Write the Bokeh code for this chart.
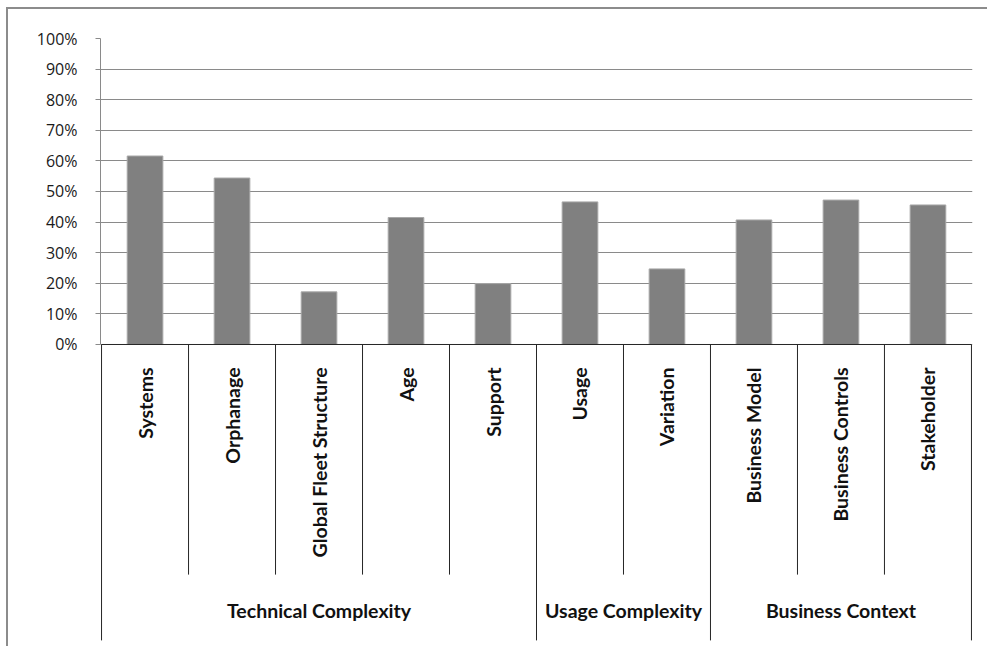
import math
from bokeh.plotting import figure
from bokeh.models import Range1d, FixedTicker, NumeralTickFormatter
from bokeh.core.properties import value
from bokeh.embed import file_html
from bokeh.resources import INLINE

# ---- data ----
categories = ["Systems", "Orphanage", "Global Fleet Structure", "Age", "Support",
              "Usage", "Variation", "Business Model", "Business Controls", "Stakeholder"]
groups = ["Technical Complexity"] * 5 + ["Usage Complexity"] * 2 + ["Business Context"] * 3
values = [0.616, 0.544, 0.172, 0.415, 0.199, 0.466, 0.247, 0.407, 0.472, 0.456]
y_ticks = [0.0, 0.1, 0.2, 0.3, 0.4, 0.5, 0.6, 0.7, 0.8, 0.9, 1.0]

n = len(categories)
xs = [i + 0.5 for i in range(n)]

TICK_FONT = "Open Sans"
CAT_FONT = "Lato"
Y_BOTTOM = -0.9706
PAD = 0.012
p = figure(width=981, height=639,
           x_range=Range1d(-PAD, n + PAD), y_range=Range1d(Y_BOTTOM, 1.0),
           output_backend="svg", toolbar_location=None,
           min_border_left=92, min_border_right=17, min_border_top=29, min_border_bottom=7)
p.margin = (7, 0, 0, 6)
p.styles = {"border-top": "2px solid #8c8c8c", "border-left": "2px solid #8c8c8c"}
p.outline_line_color = None
p.background_fill_color = "white"
p.border_fill_color = "white"

p.xaxis.visible = False
p.xgrid.visible = False

p.ygrid.ticker = FixedTicker(ticks=y_ticks)
p.ygrid.bounds = (0, 1)
p.ygrid.grid_line_color = "#8a8a8a"
p.ygrid.grid_line_width = 1

ax = p.yaxis[0]
ax.ticker = FixedTicker(ticks=y_ticks)
ax.formatter = NumeralTickFormatter(format="0%")
ax.bounds = (0, 1)
ax.axis_line_color = "#8a8a8a"
ax.major_tick_line_color = "#8a8a8a"
ax.major_tick_out = 5
ax.major_tick_in = 0
ax.minor_tick_line_color = None
ax.major_label_standoff = 18
ax.major_label_text_font = TICK_FONT
ax.major_label_text_font_size = "16px"
ax.major_label_text_color = "#1a1a1a"

# bars
p.vbar(x=xs, top=values, bottom=0, width=0.41,
       fill_color="#808080", line_color="#a8a8a8", line_width=1)

# category table lines
LINE = "#262626"
p.segment(x0=[0], y0=[0], x1=[n], y1=[0], line_color=LINE, line_width=1)
inner_x, group_x = [], [0, n]
for i in range(1, n):
    if groups[i] == groups[i - 1]:
        inner_x.append(i)
    else:
        group_x.append(i)
INNER_BOTTOM = -0.752
GROUP_BOTTOM = -0.967
p.segment(x0=inner_x, y0=[0] * len(inner_x), x1=inner_x, y1=[INNER_BOTTOM] * len(inner_x),
          line_color=LINE, line_width=1)
p.segment(x0=group_x, y0=[0] * len(group_x), x1=group_x, y1=[GROUP_BOTTOM] * len(group_x),
          line_color=LINE, line_width=1)

# inner labels
p.text(x=xs, y=[-0.075] * n, text=categories, angle=math.pi / 2,
       text_align="right", text_baseline="middle",
       text_font=value(CAT_FONT), text_font_size="19.5px", text_font_style="bold",
       text_color="#111111")

# group labels
gnames, gcenters = [], []
start = 0
for i in range(1, n + 1):
    if i == n or groups[i] != groups[start]:
        gnames.append(groups[start])
        gcenters.append((start + i) / 2)
        start = i
p.text(x=gcenters, y=[-0.869] * len(gnames), text=gnames,
       text_align="center", text_baseline="middle",
       text_font=value(CAT_FONT), text_font_size="19.5px", text_font_style="bold",
       text_color="#111111")

open("out.html", "w").write(file_html(p, INLINE))
